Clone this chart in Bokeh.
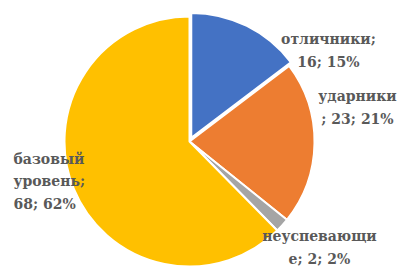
import math
from bokeh.plotting import figure
from bokeh.models import ColumnDataSource, Range1d
from bokeh.core.properties import value
from bokeh.embed import file_html
from bokeh.resources import INLINE

# ---- data ----
categories = ["отличники", "ударники", "неуспевающие", "базовый уровень"]
counts = [16, 23, 2, 68]
labels = ["отличники;\n16; 15%", "ударники\n; 23; 21%", "неуспевающи\nе; 2; 2%", "базовый\nуровень;\n68; 62%"]

# ---- style ----
colors = ["#4472C4", "#ED7D31", "#A5A5A5", "#FFC000"]
explode = [4, 0, 0, 0]
W, H = 398, 266
cx, cy, R = 189, 125, 125
label_x = [328, 357, 319, 13]
label_y = [216, 159, 19, 85]
label_align = ["center", "center", "center", "left"]

total = sum(counts)
starts, ends, xs, ys = [], [], [], []
acc = 0
for c, ex in zip(counts, explode):
    s = math.pi / 2 - 2 * math.pi * acc / total
    acc += c
    e = math.pi / 2 - 2 * math.pi * acc / total
    starts.append(s)
    ends.append(e)
    mid = (s + e) / 2
    xs.append(cx + ex * math.cos(mid))
    ys.append(cy + ex * math.sin(mid))

src = ColumnDataSource(dict(cat=categories, n=counts, s=starts, e=ends, x=xs, y=ys, color=colors))

p = figure(width=W, height=H, output_backend="svg", toolbar_location=None,
           x_range=Range1d(0, W), y_range=Range1d(0, H), min_border=0,
           background_fill_color="white", border_fill_color="white")
p.axis.visible = False
p.grid.visible = False
p.outline_line_color = None

p.wedge(x="x", y="y", radius=R, start_angle="s", end_angle="e", direction="clock",
        fill_color="color", line_color="white", line_width=2, source=src)

lsrc = ColumnDataSource(dict(x=label_x, y=label_y, t=labels, a=label_align))
p.text(x="x", y="y", text="t", text_align="a", text_baseline="middle",
       text_font=value("DejaVu Serif"), text_font_style="bold",
       text_font_size="14px", text_color="#595959", text_line_height=1.4, source=lsrc)

open("out.html", "w").write(file_html(p, INLINE))
